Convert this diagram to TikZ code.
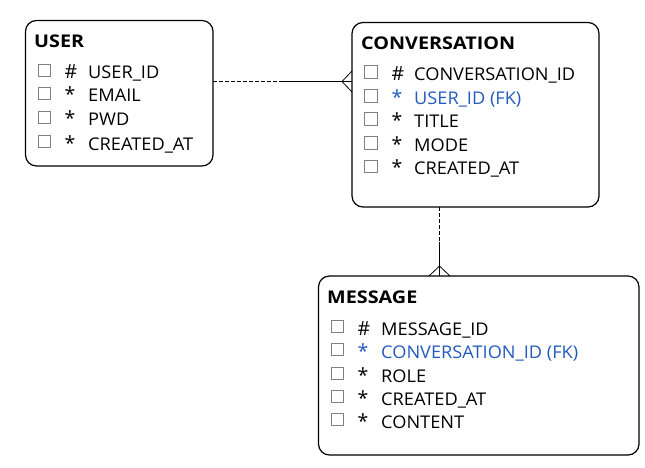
\documentclass[tikz,border=0pt]{standalone}
\usepackage{fontspec}
\setmainfont{Open Sans}[BoldFont={Open Sans Bold}]
\usepackage{graphicx}
\definecolor{fkblue}{RGB}{35,90,190}
\definecolor{boxgray}{RGB}{128,128,128}
\newcommand{\hs}[1]{\scalebox{1.04}[1]{#1}}
\newcommand{\ths}[1]{\scalebox{1.13}[1]{#1}}
\begin{document}
\begin{tikzpicture}[x=1pt,y=-1pt,
  entity/.style={draw=black,line width=1.2pt,rounded corners=11pt},
  chk/.style={draw=boxgray,line width=1pt},
  etitle/.style={anchor=base west,inner sep=0pt,font=\fontsize{17.5}{17.5}\selectfont\bfseries},
  sym/.style={anchor=base west,inner sep=0pt,font=\fontsize{19.5}{19.5}\selectfont},
  attr/.style={anchor=base west,inner sep=0pt,font=\fontsize{17.5}{17.5}\selectfont},
  rel/.style={line width=1pt},
  reld/.style={line width=1pt,dash pattern=on 4pt off 2pt}]
\useasboundingbox (0,0) rectangle (645,468);
% entity boxes
\draw[entity] (25.5,20.5) rectangle (213,166);
\draw[entity] (352,22.5) rectangle (599,207);
\draw[entity] (318.5,276) rectangle (639,455);
\node (user) at (119,93) [minimum width=187pt,minimum height=145pt] {};
\node (conv) at (475.5,114.5) [minimum width=247pt,minimum height=184pt] {};
\node (msg) at (478.5,365.5) [minimum width=320pt,minimum height=179pt] {};
% titles
\node[etitle] (ut) at (34,48) {\ths{USER}};
\node[etitle] (ct) at (361,50) {\ths{CONVERSATION}};
\node[etitle] (mt) at (327,303) {\ths{MESSAGE}};
% USER attributes
\foreach \y/\s/\t [count=\i] in {79/\#/USER\_ID,102/*/EMAIL,126/*/PWD,150/*/CREATED\_AT}{
  \draw[chk] (38,\y-14.5) rectangle (50.5,\y-2);
  \node[sym] (us\i) at (64.5,\y) {\s};
  \node[attr] (ua\i) at (88,\y) {\hs{\t}};
}
% CONVERSATION attributes
\foreach \y/\s/\t/\c [count=\i] in {81/\#/CONVERSATION\_ID/black,105/*/USER\_ID (FK)/fkblue,128/*/TITLE/black,152/*/MODE/black,175/*/CREATED\_AT/black}{
  \draw[chk] (364.5,\y-15) rectangle (377,\y-2.5);
  \node[sym,text=\c] (cs\i) at (391.5,\y) {\s};
  \node[attr,text=\c] (ca\i) at (414,\y) {\hs{\t}};
}
% MESSAGE attributes
\foreach \y/\s/\t/\c [count=\i] in {335/\#/MESSAGE\_ID/black,358/*/CONVERSATION\_ID (FK)/fkblue,382/*/ROLE/black,405/*/CREATED\_AT/black,428/*/CONTENT/black}{
  \draw[chk] (331,\y-15) rectangle (343.5,\y-2.5);
  \node[sym,text=\c] (ms\i) at (357.5,\y) {\s};
  \node[attr,text=\c] (ma\i) at (381,\y) {\hs{\t}};
}
% relationship USER -- CONVERSATION
\coordinate (r1a) at (213,81.5);
\coordinate (r1m) at (283,81.5);
\coordinate (r1b) at (352,81.5);
\coordinate (r1t) at (342,81.5);
\draw[reld] (r1a) -- (r1m);
\draw[rel] (r1m) -- (r1b);
\draw[line width=0.8pt] (352,71) -- (r1t) -- (352,92);
% relationship CONVERSATION -- MESSAGE
\coordinate (r2a) at (439.5,207);
\coordinate (r2m) at (439.5,242);
\coordinate (r2b) at (439.5,276);
\coordinate (r2t) at (439.5,266);
\draw[reld] (r2a) -- (r2m);
\draw[rel] (r2m) -- (r2b);
\draw[line width=0.8pt] (429,276) -- (r2t) -- (450,276);
\end{tikzpicture}
\end{document}
